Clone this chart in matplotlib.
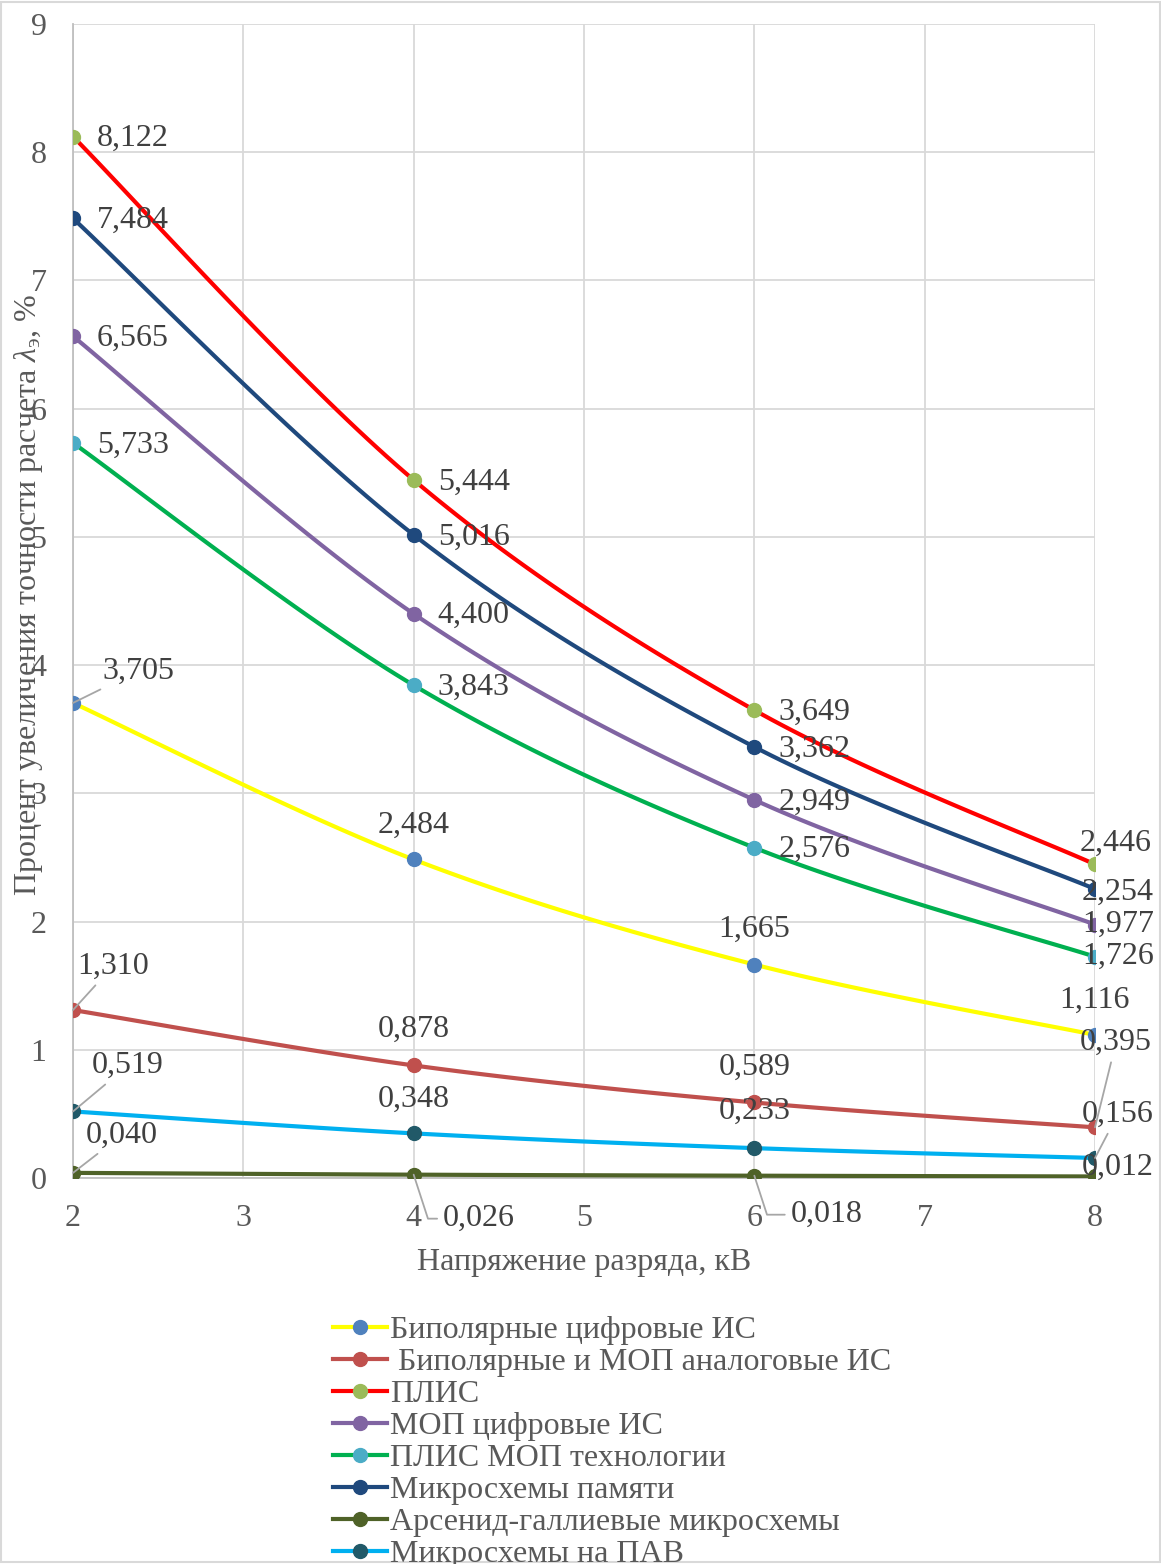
import numpy as np
import matplotlib
matplotlib.use("Agg")
import matplotlib.pyplot as plt
from matplotlib.patches import Rectangle

plt.rcParams['font.family'] = ['Liberation Serif', 'DejaVu Serif']
plt.rcParams['mathtext.fontset'] = 'custom'
plt.rcParams['mathtext.rm'] = 'Liberation Serif'
plt.rcParams['mathtext.it'] = 'Liberation Serif:italic'

# data
voltage = [2, 4, 6, 8]
names = ['Биполярные цифровые ИС',
         ' Биполярные и МОП аналоговые ИС',
         'ПЛИС',
         'МОП цифровые ИС',
         'ПЛИС МОП технологии',
         'Микросхемы памяти',
         'Арсенид-галлиевые микросхемы',
         'Микросхемы на ПАВ']
bip_digital = [3.705, 2.484, 1.665, 1.116]
bip_mos_analog = [1.310, 0.878, 0.589, 0.395]
plis = [8.122, 5.444, 3.649, 2.446]
mos_digital = [6.565, 4.400, 2.949, 1.977]
plis_mos = [5.733, 3.843, 2.576, 1.726]
memory = [7.484, 5.016, 3.362, 2.254]
gaas = [0.040, 0.026, 0.018, 0.012]
saw = [0.519, 0.348, 0.233, 0.156]
series = [bip_digital, bip_mos_analog, plis, mos_digital, plis_mos, memory, gaas, saw]

line_colors = ['#FFFF00', '#C0504D', '#FF0000', '#8064A2', '#00B050', '#1F497D', '#4F6228', '#00B0F0']
marker_colors = ['#4F81BD', '#C0504D', '#9BBB59', '#8064A2', '#4BACC6', '#1F497D', '#4F6228', '#215968']

# label placement per point: (dx px, dy px, ha, leader)  ('e' = elbow leader)
R = (24, -2, 'left', None)
label_pos = [
    [(29, 32, 'left', 's'), (0, 34, 'center', None), (0, 35, 'center', None), (0, 35, 'center', None)],
    [(40, 44, 'center', 's'), (0, 36, 'center', None), (0, 35, 'center', None), (21, 85, 'center', 's')],
    [R, R, R, (21, 21, 'center', None)],
    [R, R, R, (23, 0, 'center', None)],
    [R, R, R, (23, 0, 'center', None)],
    [R, R, R, (23, -3, 'center', None)],
    [(49, 38, 'center', 's'), (29, -44, 'left', 'e'), (36, -39, 'left', 'e'), (23, 9, 'center', None)],
    [(55, 46, 'center', 's'), (0, 34, 'center', None), (0, 37, 'center', None), (23, 44, 'center', 's')],
]


def smooth(x, y, n=40):
    # Excel-like smoothed line (cubic bezier, catmull-rom tangents)
    p = np.column_stack([x, y]).astype(float)
    out = []
    for i in range(len(p) - 1):
        p0 = p[i - 1] if i > 0 else p[i]
        p1, p2 = p[i], p[i + 1]
        p3 = p[i + 2] if i + 2 < len(p) else p[i + 1]
        c1 = p1 + (p2 - p0) / 6
        c2 = p2 - (p3 - p1) / 6
        t = np.linspace(0, 1, n)[:, None]
        seg = (1 - t) ** 3 * p1 + 3 * (1 - t) ** 2 * t * c1 + 3 * (1 - t) * t ** 2 * c2 + t ** 3 * p2
        out.append(seg if i == 0 else seg[1:])
    out = np.vstack(out)
    return out[:, 0], out[:, 1]


fig = plt.figure(figsize=(11.61, 15.64), dpi=100)
ax = fig.add_axes([73 / 1161, 1 - 1178 / 1564, (1095 - 73) / 1161, (1178 - 24) / 1564])
fig.patches.append(Rectangle((0.001, 0.001), 0.998, 0.998, transform=fig.transFigure,
                             fill=False, edgecolor='#d9d9d9', lw=1.5))

px = 72 / 100
fs = 23
for k, vals in enumerate(series):
    sx, sy = smooth(voltage, vals)
    ax.plot(sx, sy, color=line_colors[k], lw=3, solid_capstyle='round', zorder=3)
    ax.plot(voltage, vals, ls='none', marker='o', ms=10, color=marker_colors[k], zorder=4)
    # legend proxy
    ax.plot([], [], color=line_colors[k], lw=3, marker='o', ms=10,
            markerfacecolor=marker_colors[k], markeredgecolor=marker_colors[k], label=names[k])

for k, vals in enumerate(series):
    for j, (xv, yv) in enumerate(zip(voltage, vals)):
        dx, dy, ha, leader = label_pos[k][j]
        txt = f'{yv:.3f}'.replace('.', ',')
        arrow = None
        if leader == 's':
            arrow = dict(arrowstyle='-', color='#a6a6a6', lw=1.3, shrinkA=2, shrinkB=0)
        elif leader == 'e':
            arrow = dict(arrowstyle='-', color='#a6a6a6', lw=1.3, shrinkA=2, shrinkB=0,
                         connectionstyle='angle,angleA=0,angleB=-72,rad=0')
        ax.annotate(txt, xy=(xv, yv), xytext=(dx * px, dy * px), textcoords='offset points',
                    ha=ha, va='center', fontsize=fs, color='#404040', zorder=6,
                    arrowprops=arrow)

ax.set_xlim(2, 8)
ax.set_ylim(0, 9)
ax.set_xticks(range(2, 9))
ax.set_yticks(range(0, 10))
ax.grid(True, color='#d9d9d9', lw=1.3)
ax.set_axisbelow(True)
for s in ['top', 'right']:
    ax.spines[s].set_visible(False)
for s in ['left', 'bottom']:
    ax.spines[s].set_color('#bfbfbf')
    ax.spines[s].set_linewidth(1.3)
ax.tick_params(length=0, labelsize=fs, labelcolor='#595959')
ax.tick_params(axis='y', pad=19)
ax.tick_params(axis='x', pad=19)

ax.set_xlabel('Напряжение разряда, кВ', fontsize=fs, color='#595959', va='top')
ax.xaxis.set_label_coords(0.5, -0.061)
ax.set_ylabel(r'Процент увеличения точности расчета $\lambda_{\mathrm{э}}$, %', fontsize=fs, color='#595959',
              va='center')
ax.yaxis.set_label_coords(-0.044, 0.505)

fig.legend(loc='upper left', bbox_to_anchor=(333 / 1161, 1 - 1316 / 1564), frameon=False,
           fontsize=fs, labelcolor='#595959', handlelength=1.7, handletextpad=0.1,
           labelspacing=0.08, borderaxespad=0, borderpad=0)

fig.savefig('out.png', dpi=100)
